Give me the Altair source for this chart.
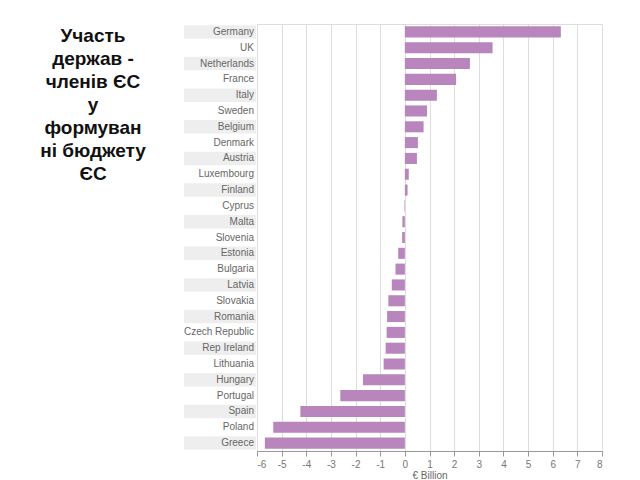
import altair as alt
import pandas as pd

countries = ["Germany", "UK", "Netherlands", "France", "Italy", "Sweden", "Belgium",
             "Denmark", "Austria", "Luxembourg", "Finland", "Cyprus", "Malta", "Slovenia",
             "Estonia", "Bulgaria", "Latvia", "Slovakia", "Romania", "Czech Republic",
             "Rep Ireland", "Lithuania", "Hungary", "Portugal", "Spain", "Poland", "Greece"]
values = [6.33, 3.56, 2.64, 2.08, 1.3, 0.9, 0.76, 0.53, 0.49, 0.16, 0.11, -0.02, -0.1,
          -0.11, -0.27, -0.38, -0.53, -0.67, -0.72, -0.74, -0.78, -0.86, -1.7, -2.62,
          -4.24, -5.34, -5.68]
title_lines = ["Участь", "держав -", "членів ЄС", "у", "формуван", "ні бюджету", "ЄС"]
x_ticks = list(range(-6, 9))

df = pd.DataFrame({"country": countries, "value": values,
                   "band": [i % 2 == 0 for i in range(len(countries))]})
tdf = pd.DataFrame({"line": title_lines, "i": [i + 0.5 for i in range(len(title_lines))]})

H = 427
TITLE_W = 176
LABEL_W = 73
BAR_W = 345
LINE_H = 23

yscale = alt.Scale(domain=countries, paddingInner=0, paddingOuter=0)

title_panel = alt.Chart(tdf).mark_text(
    font="Liberation Sans", fontSize=19, fontWeight="bold", color="#111",
    align="center", baseline="middle"
).encode(
    x=alt.value(85),
    y=alt.Y("i:Q", axis=None, scale=alt.Scale(domain=[0, H / LINE_H], reverse=True, nice=False, zero=False)),
    text="line:N",
).properties(width=TITLE_W, height=H)

label_rect = alt.Chart(df).transform_filter("datum.band").mark_rect(
    color="#eeeeee", height=alt.RelativeBandSize(0.85)
).encode(
    y=alt.Y("country:N", sort=countries, scale=yscale, axis=None),
    x=alt.value(0), x2=alt.value(LABEL_W - 1),
)
label_text = alt.Chart(df).mark_text(
    font="Liberation Sans", fontSize=10, color="#666", align="right", baseline="middle"
).encode(
    y=alt.Y("country:N", sort=countries, scale=yscale, axis=None),
    x=alt.value(LABEL_W - 3),
    text="country:N",
)
label_panel = alt.layer(label_rect, label_text).properties(width=LABEL_W, height=H)

bars = alt.Chart(df).mark_bar(color="#b985bd", height=alt.RelativeBandSize(0.7)).encode(
    y=alt.Y("country:N", sort=countries, scale=yscale, axis=None),
    x=alt.X("value:Q", scale=alt.Scale(domain=[-6, 8], nice=False),
            axis=alt.Axis(values=x_ticks, title="€ Billion", grid=True, gridColor="#dddddd",
                          labelExpr="'' + datum.value",
                          domainColor="#999", tickColor="#999", tickSize=5,
                          labelColor="#777", labelFont="Liberation Sans", labelFontSize=10,
                          labelPadding=3,
                          titleColor="#666", titleFont="Liberation Sans", titleFontSize=10,
                          titleFontWeight="normal", titlePadding=1)),
).properties(width=BAR_W, height=H, view=alt.ViewBackground(stroke="#dddddd"))

chart = alt.hconcat(title_panel, label_panel, bars, spacing=0, bounds="flush").properties(
    padding={"left": 0, "top": 15, "right": 5, "bottom": 0}
).configure_view(stroke=None).configure_concat(spacing=0)

chart.save("out.html", embed_options={"renderer": "svg", "actions": False})
